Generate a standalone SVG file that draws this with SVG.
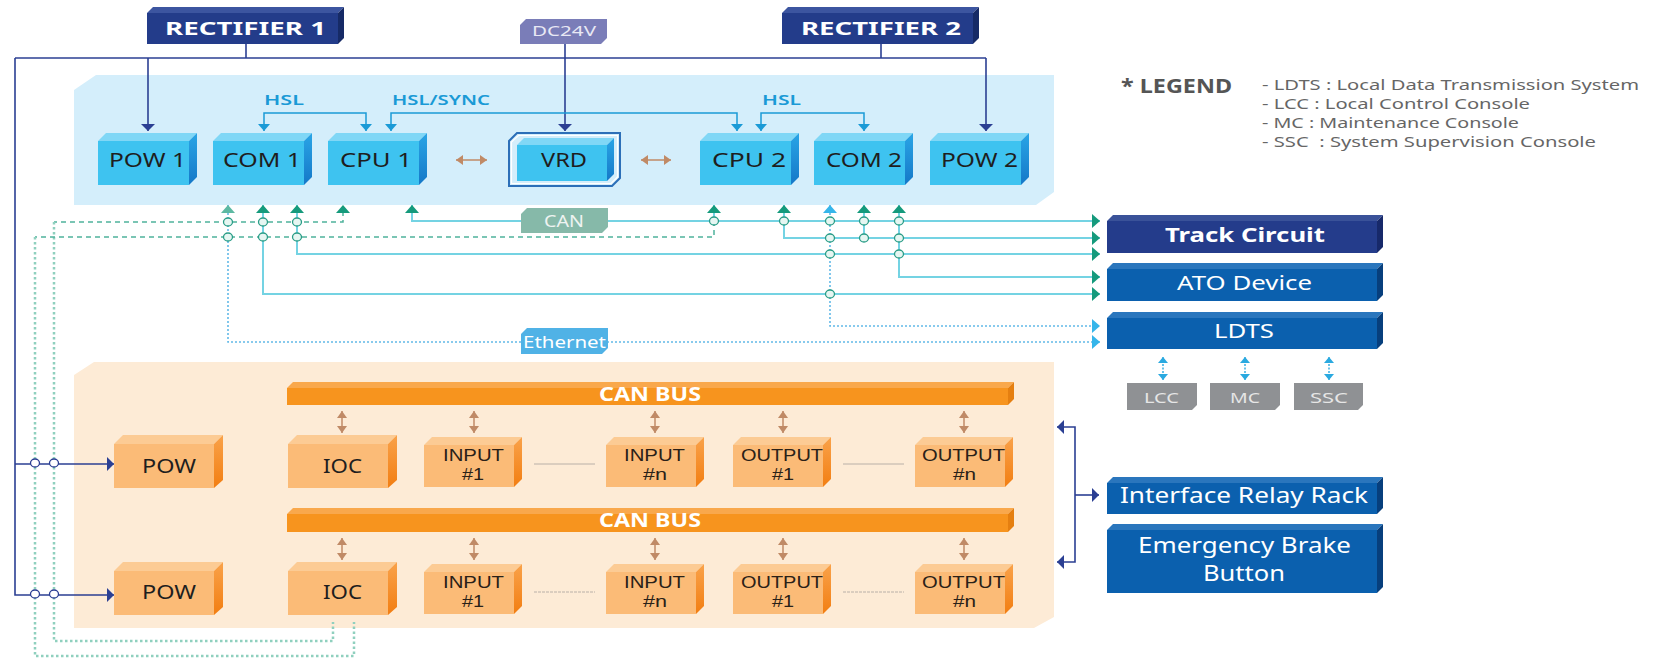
<svg xmlns="http://www.w3.org/2000/svg" width="1657" height="659" viewBox="0 0 1657 659">
<style>
.t{font-family:"Noto Sans","DejaVu Sans",sans-serif}
.tl{font-family:"Liberation Sans",Arial,sans-serif}
.mod{font-size:20px;fill:#1e1e1e}
.omod{font-size:16px;fill:#2a2118}
.wb{fill:#ffffff;font-weight:bold}
.wn{fill:#ffffff}
.hsl{font-size:15px;fill:#1a9ad6;font-weight:600}
.leg{font-size:15px;fill:#666666}
.pw{fill:none;stroke:#2b3f93;stroke-width:1.6}
.hl{fill:none;stroke:#1a9ad6;stroke-width:1.5}
.cy{fill:none;stroke:#74d3e3;stroke-width:2}
.dg{fill:none;stroke:#4fb39c;stroke-width:1.5;stroke-dasharray:5 4}
.dt{fill:none;stroke:#8fd0be;stroke-width:2.5;stroke-dasharray:2.5 2.5}
.db{fill:none;stroke:#62b9e8;stroke-width:1.6;stroke-dasharray:2 2}
.br{fill:none;stroke:#c08a66;stroke-width:1.5}
.lb{fill:none;stroke:#2aa9e0;stroke-width:1.4;stroke-dasharray:2 1.5}
.jn{fill:#e6f6f2;stroke:#2a9d87;stroke-width:1.3}
.jp{fill:#ffffff;stroke:#2b3f93;stroke-width:1.3}
.sep{fill:none;stroke:#b9b0a8;stroke-width:1}
</style>
<defs>
<marker id="aNavy" viewBox="0 0 7 14" refX="7" refY="7" markerWidth="7" markerHeight="14" markerUnits="userSpaceOnUse" orient="auto-start-reverse"><path d="M0,0 L7,7 L0,14 z" fill="#2b3f93"/></marker>
<marker id="aHsl" viewBox="0 0 7 12" refX="7" refY="6" markerWidth="7" markerHeight="12" markerUnits="userSpaceOnUse" orient="auto-start-reverse"><path d="M0,0 L7,6 L0,12 z" fill="#1a9ad6"/></marker>
<marker id="aBr" viewBox="0 0 7 10" refX="7" refY="5" markerWidth="7" markerHeight="10" markerUnits="userSpaceOnUse" orient="auto-start-reverse"><path d="M0,0 L7,5 L0,10 z" fill="#c08a66"/></marker>
<marker id="aGr" viewBox="0 0 8 14" refX="8" refY="7" markerWidth="8" markerHeight="14" markerUnits="userSpaceOnUse" orient="auto-start-reverse"><path d="M0,0 L8,7 L0,14 z" fill="#159a7c"/></marker>
<marker id="aGl" viewBox="0 0 8 14" refX="8" refY="7" markerWidth="8" markerHeight="14" markerUnits="userSpaceOnUse" orient="auto-start-reverse"><path d="M0,0 L8,7 L0,14 z" fill="#5db9a2"/></marker>
<marker id="aLb" viewBox="0 0 8 14" refX="8" refY="7" markerWidth="8" markerHeight="14" markerUnits="userSpaceOnUse" orient="auto-start-reverse"><path d="M0,0 L8,7 L0,14 z" fill="#35b5ea"/></marker>
<marker id="aLs" viewBox="0 0 6 10" refX="6" refY="5" markerWidth="6" markerHeight="10" markerUnits="userSpaceOnUse" orient="auto-start-reverse"><path d="M0,0 L6,5 L0,10 z" fill="#2aa9e0"/></marker>
<linearGradient id="gSide" x1="0" y1="0" x2="0" y2="1"><stop offset="0" stop-color="#2aa5e6"/><stop offset="1" stop-color="#1478c8"/></linearGradient>
<linearGradient id="gOSide" x1="0" y1="0" x2="0" y2="1"><stop offset="0" stop-color="#f9a24a"/><stop offset="1" stop-color="#f27e12"/></linearGradient>
<g id="bbox">
<polygon points="0,8 8,0 99,0 91,8" fill="#80d7f6"/>
<rect x="0" y="8" width="91" height="44" fill="#3ec3f0"/>
<polygon points="91,8 99,0 99,44 91,52" fill="url(#gSide)"/>
</g>
<g id="obig">
<polygon points="0,9 9,0 109,0 100,9" fill="#fccb94"/>
<rect x="0" y="9" width="100" height="44" fill="#fbbb77"/>
<polygon points="100,9 109,0 109,45 100,53" fill="url(#gOSide)"/>
</g>
<g id="osm">
<polygon points="0,8 8,0 98,0 90,8" fill="#fccb94"/>
<rect x="0" y="8" width="90" height="42" fill="#fbbb77"/>
<polygon points="90,8 98,0 98,42 90,50" fill="url(#gOSide)"/>
</g>
</defs>

<rect x="0" y="0" width="1657" height="659" fill="#ffffff"/>

<!-- panels -->
<g id="panel-top"><path d="M74,90 L96,75 L1054,75 L1054,192 L1036,205 L74,205 Z" fill="#d4eefb"/></g>
<g id="panel-bottom"><path d="M74,375 L94,362 L1054,362 L1054,617 L1034,628 L74,628 Z" fill="#fdebd6"/></g>

<!-- connectors -->
<g id="connectors">
<path class="pw" d="M246,44 L246,58"/>
<path class="pw" d="M881,44 L881,58"/>
<path class="pw" d="M15,58 L986,58"/>
<path class="pw" d="M148,58 L148,131" marker-end="url(#aNavy)"/>
<path class="pw" d="M986,58 L986,131" marker-end="url(#aNavy)"/>
<path class="pw" d="M565,44 L565,131" marker-end="url(#aNavy)"/>
<path class="pw" d="M15,58 L15,595 L114,595" marker-end="url(#aNavy)"/>
<path class="pw" d="M15,464 L114,464" marker-end="url(#aNavy)"/>
<path class="hl" d="M264,131 L264,113 L366,113 L366,131" marker-start="url(#aHsl)" marker-end="url(#aHsl)"/>
<path class="hl" d="M391,131 L391,113 L737,113 L737,131" marker-start="url(#aHsl)" marker-end="url(#aHsl)"/>
<path class="hl" d="M761,131 L761,113 L864,113 L864,131" marker-start="url(#aHsl)" marker-end="url(#aHsl)"/>
<path class="br" d="M456,160 L487,160" marker-start="url(#aBr)" marker-end="url(#aBr)"/>
<path class="br" d="M641,160 L671,160" marker-start="url(#aBr)" marker-end="url(#aBr)"/>
<path class="dg" d="M343,211 L343,222 L54,222"/>
<path class="dt" d="M54,222 L54,641 L333,641 L333,622"/>
<path class="dg" d="M714,221 L714,237 L35,237"/>
<path class="dt" d="M35,237 L35,656 L354,656 L354,622"/>
<path class="db" d="M228,205 L228,342 L1100,342" marker-end="url(#aLb)"/>
<path class="db" d="M830,205 L830,326 L1100,326" marker-end="url(#aLb)"/>
<path class="cy" d="M412,205 L412,221 L1100,221" marker-end="url(#aGr)"/>
<path class="cy" d="M784,205 L784,238 L1100,238" marker-end="url(#aGr)"/>
<path class="cy" d="M297,205 L297,254 L1100,254" marker-end="url(#aGr)"/>
<path class="cy" d="M899,205 L899,277 L1100,277" marker-end="url(#aGr)"/>
<path class="cy" d="M263,205 L263,294 L1100,294" marker-end="url(#aGr)"/>
<path class="cy" d="M864,205 L864,238"/>
<path class="cy" d="M714,205 L714,221"/>
<path d="M228,212 L228,205" fill="none" stroke="none" marker-end="url(#aGl)"/>
<path d="M263,212 L263,205" fill="none" stroke="none" marker-end="url(#aGr)"/>
<path d="M297,212 L297,205" fill="none" stroke="none" marker-end="url(#aGr)"/>
<path d="M343,212 L343,205" fill="none" stroke="none" marker-end="url(#aGr)"/>
<path d="M412,212 L412,205" fill="none" stroke="none" marker-end="url(#aGr)"/>
<path d="M714,212 L714,205" fill="none" stroke="none" marker-end="url(#aGr)"/>
<path d="M784,212 L784,205" fill="none" stroke="none" marker-end="url(#aGr)"/>
<path d="M830,212 L830,205" fill="none" stroke="none" marker-end="url(#aLb)"/>
<path d="M864,212 L864,205" fill="none" stroke="none" marker-end="url(#aGr)"/>
<path d="M899,212 L899,205" fill="none" stroke="none" marker-end="url(#aGr)"/>
<ellipse class="jn" cx="228" cy="222" rx="4.5" ry="4"/>
<ellipse class="jn" cx="263" cy="222" rx="4.5" ry="4"/>
<ellipse class="jn" cx="297" cy="222" rx="4.5" ry="4"/>
<ellipse class="jn" cx="228" cy="237" rx="4.5" ry="4"/>
<ellipse class="jn" cx="263" cy="237" rx="4.5" ry="4"/>
<ellipse class="jn" cx="297" cy="237" rx="4.5" ry="4"/>
<ellipse class="jn" cx="714" cy="221" rx="4.5" ry="4"/>
<ellipse class="jn" cx="784" cy="221" rx="4.5" ry="4"/>
<ellipse class="jn" cx="830" cy="221" rx="4.5" ry="4"/>
<ellipse class="jn" cx="864" cy="221" rx="4.5" ry="4"/>
<ellipse class="jn" cx="899" cy="221" rx="4.5" ry="4"/>
<ellipse class="jn" cx="830" cy="238" rx="4.5" ry="4"/>
<ellipse class="jn" cx="864" cy="238" rx="4.5" ry="4"/>
<ellipse class="jn" cx="899" cy="238" rx="4.5" ry="4"/>
<ellipse class="jn" cx="830" cy="254" rx="4.5" ry="4"/>
<ellipse class="jn" cx="899" cy="254" rx="4.5" ry="4"/>
<ellipse class="jn" cx="830" cy="294" rx="4.5" ry="4"/>
<ellipse class="jp" cx="35" cy="463" rx="4.5" ry="4"/>
<ellipse class="jp" cx="54" cy="463" rx="4.5" ry="4"/>
<ellipse class="jp" cx="35" cy="594" rx="4.5" ry="4"/>
<ellipse class="jp" cx="54" cy="594" rx="4.5" ry="4"/>
<path class="lb" d="M1163,357 L1163,380" marker-start="url(#aLs)" marker-end="url(#aLs)"/>
<path class="lb" d="M1245,357 L1245,380" marker-start="url(#aLs)" marker-end="url(#aLs)"/>
<path class="lb" d="M1329,357 L1329,380" marker-start="url(#aLs)" marker-end="url(#aLs)"/>
<path class="br" d="M342,411 L342,433" marker-start="url(#aBr)" marker-end="url(#aBr)"/>
<path class="br" d="M474,411 L474,433" marker-start="url(#aBr)" marker-end="url(#aBr)"/>
<path class="br" d="M655,411 L655,433" marker-start="url(#aBr)" marker-end="url(#aBr)"/>
<path class="br" d="M783,411 L783,433" marker-start="url(#aBr)" marker-end="url(#aBr)"/>
<path class="br" d="M964,411 L964,433" marker-start="url(#aBr)" marker-end="url(#aBr)"/>
<path class="br" d="M342,538 L342,560" marker-start="url(#aBr)" marker-end="url(#aBr)"/>
<path class="br" d="M474,538 L474,560" marker-start="url(#aBr)" marker-end="url(#aBr)"/>
<path class="br" d="M655,538 L655,560" marker-start="url(#aBr)" marker-end="url(#aBr)"/>
<path class="br" d="M783,538 L783,560" marker-start="url(#aBr)" marker-end="url(#aBr)"/>
<path class="br" d="M964,538 L964,560" marker-start="url(#aBr)" marker-end="url(#aBr)"/>
<path class="sep" d="M534,464 L595,464"/>
<path class="sep" d="M843,464 L904,464"/>
<path class="sep" d="M534,592 L595,592" stroke-dasharray="3 1"/>
<path class="sep" d="M843,592 L904,592" stroke-dasharray="3 1"/>
<path class="pw" d="M1057,427 L1075,427 L1075,562 L1057,562" marker-start="url(#aNavy)" marker-end="url(#aNavy)"/>
<path class="pw" d="M1075,495 L1099,495" marker-end="url(#aNavy)"/>
</g>

<!-- top nodes -->
<g id="rectifier1">
<polygon points="147,13 153,7 344,7 338,13" fill="#3c55a0"/>
<rect x="147" y="13" width="191" height="31" fill="#233c8a"/>
<polygon points="338,13 344,7 344,38 338,44" fill="#162a66"/>
<text class="t wb" x="165" y="35" font-size="18" textLength="161" lengthAdjust="spacingAndGlyphs">RECTIFIER 1</text>
</g>
<g id="rectifier2">
<polygon points="782,13 788,7 979,7 973,13" fill="#3c55a0"/>
<rect x="782" y="13" width="191" height="31" fill="#233c8a"/>
<polygon points="973,13 979,7 979,38 973,44" fill="#162a66"/>
<text class="t wb" x="801" y="35" font-size="18" textLength="160" lengthAdjust="spacingAndGlyphs">RECTIFIER 2</text>
</g>
<g id="dc24v">
<polygon points="526,19 607,19 607,38 601,44 520,44 520,25" fill="#7a7db8"/>
<text class="t" x="532" y="36" font-size="15" fill="#e8e8f4" textLength="64" lengthAdjust="spacingAndGlyphs">DC24V</text>
</g>
<g id="hsl-labels">
<text class="t hsl" x="264" y="105" textLength="40" lengthAdjust="spacingAndGlyphs">HSL</text>
<text class="t hsl" x="392" y="105" textLength="98" lengthAdjust="spacingAndGlyphs">HSL/SYNC</text>
<text class="t hsl" x="762" y="105" textLength="39" lengthAdjust="spacingAndGlyphs">HSL</text>
</g>
<g id="pow1"><use href="#bbox" x="98" y="133"/><text class="t mod" x="109" y="167" textLength="77" lengthAdjust="spacingAndGlyphs">POW 1</text></g>
<g id="com1"><use href="#bbox" x="213" y="133"/><text class="t mod" x="223" y="167" textLength="78" lengthAdjust="spacingAndGlyphs">COM 1</text></g>
<g id="cpu1"><use href="#bbox" x="328" y="133"/><text class="t mod" x="340" y="167" textLength="72" lengthAdjust="spacingAndGlyphs">CPU 1</text></g>
<g id="vrd">
<path d="M517,133 L620,133 L620,178 L612,186 L509,186 L509,141 Z" fill="none" stroke="#2c6fb8" stroke-width="2"/>
<path d="M518.5,135.5 L617.5,135.5 L617.5,177 L611,183.5 L511.5,183.5 L511.5,142 Z" fill="none" stroke="#ffffff" stroke-width="1.2"/>
<polygon points="517,145 524,138 614,138 607,145" fill="#80d7f6"/>
<rect x="517" y="145" width="90" height="36" fill="#3ec3f0"/>
<polygon points="607,145 614,138 614,174 607,181" fill="url(#gSide)"/>
<text class="t mod" x="541" y="167" textLength="46" lengthAdjust="spacingAndGlyphs">VRD</text>
</g>
<g id="cpu2"><use href="#bbox" x="700" y="133"/><text class="t mod" x="712" y="167" textLength="74" lengthAdjust="spacingAndGlyphs">CPU 2</text></g>
<g id="com2"><use href="#bbox" x="814" y="133"/><text class="t mod" x="826" y="167" textLength="76" lengthAdjust="spacingAndGlyphs">COM 2</text></g>
<g id="pow2"><use href="#bbox" x="930" y="133"/><text class="t mod" x="941" y="167" textLength="77" lengthAdjust="spacingAndGlyphs">POW 2</text></g>

<g id="can-label">
<polygon points="527,208 608,208 608,227 602,233 521,233 521,214" fill="#86b9a9"/>
<text class="t" x="544" y="227" font-size="16" fill="#eef3f1" textLength="40" lengthAdjust="spacingAndGlyphs">CAN</text>
</g>
<g id="ethernet-label">
<polygon points="527,328 608,328 608,348 602,354 521,354 521,334" fill="#50b2e6"/>
<text class="t wn" x="523" y="348" font-size="16" textLength="83" lengthAdjust="spacingAndGlyphs">Ethernet</text>
</g>

<g id="legend">
<text class="t" x="1121" y="93" font-size="19" font-weight="bold" fill="#555555" textLength="111" lengthAdjust="spacingAndGlyphs">* LEGEND</text>
<text class="t leg" x="1262" y="90" textLength="377" lengthAdjust="spacingAndGlyphs">- LDTS : Local Data Transmission System</text>
<text class="t leg" x="1262" y="109" textLength="268" lengthAdjust="spacingAndGlyphs">- LCC : Local Control Console</text>
<text class="t leg" x="1262" y="128" textLength="257" lengthAdjust="spacingAndGlyphs">- MC : Maintenance Console</text>
<text class="t leg" x="1262" y="147" textLength="334" lengthAdjust="spacingAndGlyphs" style="white-space:pre">- SSC  : System Supervision Console</text>
</g>

<g id="track-circuit">
<polygon points="1107,221 1113,215 1383,215 1377,221" fill="#3a5299"/>
<rect x="1107" y="221" width="270" height="32" fill="#243c8b"/>
<polygon points="1377,221 1383,215 1383,247 1377,253" fill="#17296a"/>
<text class="t wb" x="1165" y="242" font-size="20" textLength="160" lengthAdjust="spacingAndGlyphs">Track Circuit</text>
</g>
<g id="ato-device">
<polygon points="1107,269 1113,263 1383,263 1377,269" fill="#2a76bd"/>
<rect x="1107" y="269" width="270" height="32" fill="#0b60ae"/>
<polygon points="1377,269 1383,263 1383,295 1377,301" fill="#073f7d"/>
<text class="t wn" x="1177" y="290" font-size="20" textLength="135" lengthAdjust="spacingAndGlyphs">ATO Device</text>
</g>
<g id="ldts">
<polygon points="1107,318 1113,312 1383,312 1377,318" fill="#2a76bd"/>
<rect x="1107" y="318" width="270" height="31" fill="#0b60ae"/>
<polygon points="1377,318 1383,312 1383,343 1377,349" fill="#073f7d"/>
<text class="t wn" x="1214" y="338" font-size="20" textLength="60" lengthAdjust="spacingAndGlyphs">LDTS</text>
</g>
<g id="lcc">
<polygon points="1127,383 1197,383 1197,405 1192,410 1127,410" fill="#8f9194"/>
<text class="t" x="1144" y="403" font-size="15" fill="#e6e6e6" textLength="35" lengthAdjust="spacingAndGlyphs">LCC</text>
</g>
<g id="mc">
<polygon points="1210,383 1280,383 1280,405 1275,410 1210,410" fill="#8f9194"/>
<text class="t" x="1230" y="403" font-size="15" fill="#e6e6e6" textLength="30" lengthAdjust="spacingAndGlyphs">MC</text>
</g>
<g id="ssc">
<polygon points="1294,383 1363,383 1363,405 1358,410 1294,410" fill="#8f9194"/>
<text class="t" x="1310" y="403" font-size="15" fill="#e6e6e6" textLength="38" lengthAdjust="spacingAndGlyphs">SSC</text>
</g>
<g id="interface-relay-rack">
<polygon points="1107,483 1113,477 1383,477 1377,483" fill="#2a76bd"/>
<rect x="1107" y="483" width="270" height="31" fill="#0b60ae"/>
<polygon points="1377,483 1383,477 1383,508 1377,514" fill="#073f7d"/>
<text class="t wn" x="1120" y="503" font-size="21" textLength="248" lengthAdjust="spacingAndGlyphs">Interface Relay Rack</text>
</g>
<g id="emergency-brake-button">
<polygon points="1107,530 1113,524 1383,524 1377,530" fill="#2a76bd"/>
<rect x="1107" y="530" width="270" height="63" fill="#0b60ae"/>
<polygon points="1377,530 1383,524 1383,587 1377,593" fill="#073f7d"/>
<text class="t wn" x="1138" y="553" font-size="21" textLength="213" lengthAdjust="spacingAndGlyphs">Emergency Brake</text>
<text class="t wn" x="1203" y="581" font-size="21" textLength="82" lengthAdjust="spacingAndGlyphs">Button</text>
</g>

<g id="canbus1">
<polygon points="287,388 293,382 1014,382 1008,388" fill="#f9a84c"/>
<rect x="287" y="388" width="721" height="17" fill="#f7941e"/>
<polygon points="1008,388 1014,382 1014,399 1008,405" fill="#e57f10"/>
<text class="t wb" x="599" y="401" font-size="19" textLength="102" lengthAdjust="spacingAndGlyphs">CAN BUS</text>
</g>
<g id="canbus2">
<polygon points="287,514 293,508 1014,508 1008,514" fill="#f9a84c"/>
<rect x="287" y="514" width="721" height="18" fill="#f7941e"/>
<polygon points="1008,514 1014,508 1014,526 1008,532" fill="#e57f10"/>
<text class="t wb" x="599" y="527" font-size="19" textLength="102" lengthAdjust="spacingAndGlyphs">CAN BUS</text>
</g>
<g id="pow-a"><use href="#obig" x="114" y="435"/><text class="t mod" x="142" y="473" textLength="54" lengthAdjust="spacingAndGlyphs">POW</text></g>
<g id="ioc-a"><use href="#obig" x="288" y="435"/><text class="t mod" x="323" y="473" textLength="39" lengthAdjust="spacingAndGlyphs">IOC</text></g>
<g id="input1-a"><use href="#osm" x="424" y="437"/><text class="tl omod" x="443" y="461" textLength="61" lengthAdjust="spacingAndGlyphs">INPUT</text><text class="tl omod" x="462" y="480" textLength="22" lengthAdjust="spacingAndGlyphs">#1</text></g>
<g id="inputn-a"><use href="#osm" x="606" y="437"/><text class="tl omod" x="624" y="461" textLength="61" lengthAdjust="spacingAndGlyphs">INPUT</text><text class="tl omod" x="643" y="480" textLength="24" lengthAdjust="spacingAndGlyphs">#n</text></g>
<g id="output1-a"><use href="#osm" x="733" y="437"/><text class="tl omod" x="741" y="461" textLength="82" lengthAdjust="spacingAndGlyphs">OUTPUT</text><text class="tl omod" x="772" y="480" textLength="22" lengthAdjust="spacingAndGlyphs">#1</text></g>
<g id="outputn-a"><use href="#osm" x="915" y="437"/><text class="tl omod" x="922" y="461" textLength="83" lengthAdjust="spacingAndGlyphs">OUTPUT</text><text class="tl omod" x="953" y="480" textLength="23" lengthAdjust="spacingAndGlyphs">#n</text></g>
<g id="pow-b"><use href="#obig" x="114" y="562"/><text class="t mod" x="142" y="599" textLength="54" lengthAdjust="spacingAndGlyphs">POW</text></g>
<g id="ioc-b"><use href="#obig" x="288" y="562"/><text class="t mod" x="323" y="599" textLength="39" lengthAdjust="spacingAndGlyphs">IOC</text></g>
<g id="input1-b"><use href="#osm" x="424" y="564"/><text class="tl omod" x="443" y="588" textLength="61" lengthAdjust="spacingAndGlyphs">INPUT</text><text class="tl omod" x="462" y="607" textLength="22" lengthAdjust="spacingAndGlyphs">#1</text></g>
<g id="inputn-b"><use href="#osm" x="606" y="564"/><text class="tl omod" x="624" y="588" textLength="61" lengthAdjust="spacingAndGlyphs">INPUT</text><text class="tl omod" x="643" y="607" textLength="24" lengthAdjust="spacingAndGlyphs">#n</text></g>
<g id="output1-b"><use href="#osm" x="733" y="564"/><text class="tl omod" x="741" y="588" textLength="82" lengthAdjust="spacingAndGlyphs">OUTPUT</text><text class="tl omod" x="772" y="607" textLength="22" lengthAdjust="spacingAndGlyphs">#1</text></g>
<g id="outputn-b"><use href="#osm" x="915" y="564"/><text class="tl omod" x="922" y="588" textLength="83" lengthAdjust="spacingAndGlyphs">OUTPUT</text><text class="tl omod" x="953" y="607" textLength="23" lengthAdjust="spacingAndGlyphs">#n</text></g>
</svg>
